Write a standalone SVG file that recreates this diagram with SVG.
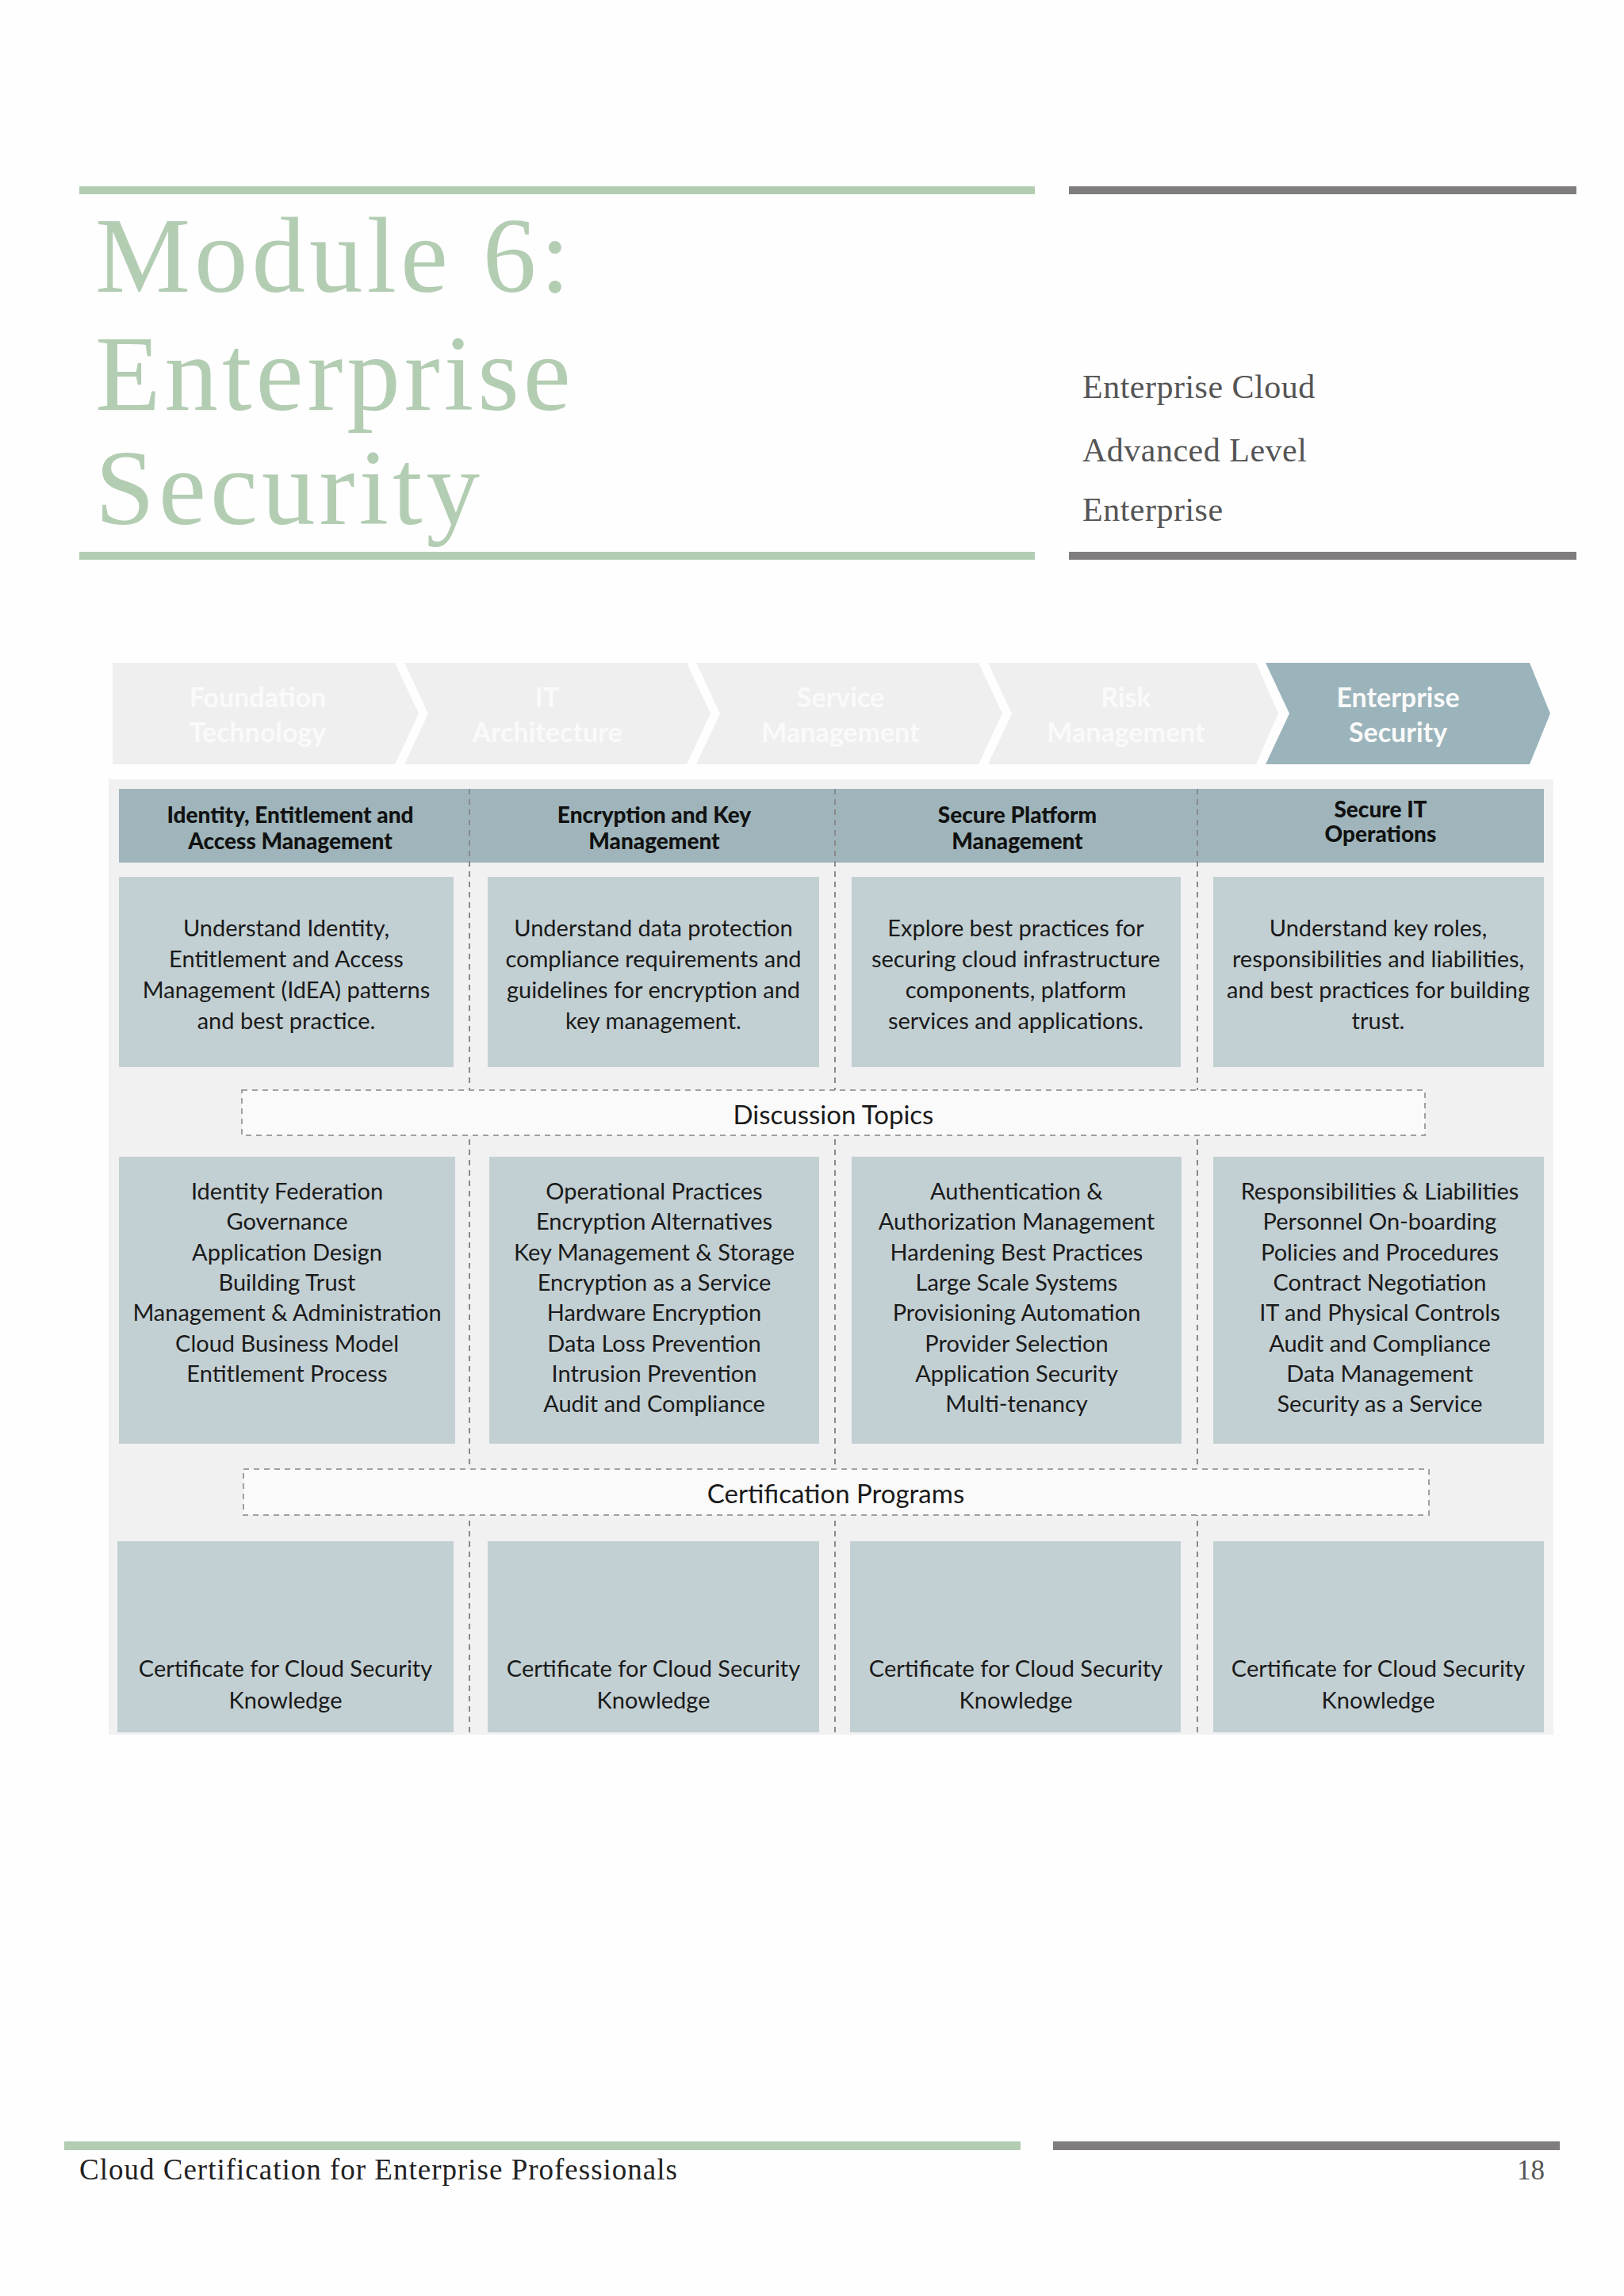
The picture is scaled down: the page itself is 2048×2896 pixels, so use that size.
<svg xmlns="http://www.w3.org/2000/svg" width="2048" height="2896" viewBox="0 0 2048 2896">
<style>
.t{font-family:"Liberation Serif",serif}
.g{font-family:Lato,"Open Sans",sans-serif;fill:#1a1a1a}
.hd{font-weight:900;font-size:28px;text-anchor:middle;fill:#111}
.bd{font-size:29px;text-anchor:middle}
.box{fill:#c3d0d3}
.dash{stroke:#8a8a8a;stroke-width:2;stroke-dasharray:7 6;fill:none}
.dbox{stroke:#a0a0a0;stroke-width:2;stroke-dasharray:7 6;fill:#fafafa}
.chv{fill:#efefef}
.ct{font-family:Lato,"Open Sans",sans-serif;font-weight:bold;font-size:34px;fill:#fafafa;text-anchor:middle}
</style>
<rect width="2048" height="2896" fill="#fefefe"/>
<g id="header">
<rect x="100" y="235" width="1205" height="10" fill="#b3cdb3"/>
<rect x="1348" y="235" width="640" height="10" fill="#7f7d7e"/>
<rect x="100" y="696" width="1205" height="10" fill="#b3cdb3"/>
<rect x="1348" y="696" width="640" height="10" fill="#7f7d7e"/>
<g class="t" font-size="135" fill="#b3cdb3" letter-spacing="5">
<text x="120" y="368">Module 6:</text>
<text x="120" y="517">Enterprise</text>
<text x="120" y="661">Security</text>
</g>
<g class="t" font-size="42" fill="#555" letter-spacing="0.5">
<text x="1365" y="502">Enterprise Cloud</text>
<text x="1365" y="582">Advanced Level</text>
<text x="1365" y="657">Enterprise</text>
</g>
</g>
<g id="chevrons">
<path class="chv" d="M142,836 H498 L528,900 L498,964 H142 Z"/>
<path class="chv" d="M510,836 H866 L896,900 L866,964 H510 L540,900 Z"/>
<path class="chv" d="M878,836 H1234 L1264,900 L1234,964 H878 L908,900 Z"/>
<path class="chv" d="M1246,836 H1584 L1612,900 L1584,964 H1246 L1276,900 Z"/>
<path fill="#9bb4bb" d="M1596,836 H1929 L1955,900 L1929,964 H1596 L1626,900 Z"/>
<text class="ct" x="325" y="892">Foundation<tspan x="325" y="936">Technology</tspan></text>
<text class="ct" x="690" y="892">IT<tspan x="690" y="936">Architecture</tspan></text>
<text class="ct" x="1060" y="892">Service<tspan x="1060" y="936">Management</tspan></text>
<text class="ct" x="1420" y="892">Risk<tspan x="1420" y="936">Management</tspan></text>
<text class="ct" x="1763" y="892" fill="#fff">Enterprise<tspan x="1763" y="936">Security</tspan></text>
</g>
<rect x="137" y="983" width="1822" height="1205" fill="#f1f1f2"/>
<g id="connectors">
<line class="dash" x1="592" y1="995" x2="592" y2="2185"/>
<line class="dash" x1="1053" y1="995" x2="1053" y2="2185"/>
<line class="dash" x1="1510" y1="995" x2="1510" y2="2185"/>
</g>
<g id="headers">
<rect x="150" y="995" width="1797" height="93" fill="#9fb5bb"/>
<line class="dash" x1="592" y1="995" x2="592" y2="1088"/>
<line class="dash" x1="1053" y1="995" x2="1053" y2="1088"/>
<line class="dash" x1="1510" y1="995" x2="1510" y2="1088"/>
<text class="g hd" x="366" y="1038">Identity, Entitlement and<tspan x="366" y="1071">Access Management</tspan></text>
<text class="g hd" x="825" y="1038">Encryption and Key<tspan x="825" y="1071">Management</tspan></text>
<text class="g hd" x="1283" y="1038">Secure Platform<tspan x="1283" y="1071">Management</tspan></text>
<text class="g hd" x="1741" y="1031">Secure IT<tspan x="1741" y="1062">Operations</tspan></text>
</g>
<g id="descriptions">
<rect class="box" x="150" y="1106" width="422" height="240"/>
<rect class="box" x="615" y="1106" width="418" height="240"/>
<rect class="box" x="1074" y="1106" width="415" height="240"/>
<rect class="box" x="1530" y="1106" width="417" height="240"/>
<text class="g bd" x="361" y="1181">Understand Identity,<tspan x="361" y="1220">Entitlement and Access</tspan><tspan x="361" y="1259">Management (IdEA) patterns</tspan><tspan x="361" y="1298">and best practice.</tspan></text>
<text class="g bd" x="824" y="1181">Understand data protection<tspan x="824" y="1220">compliance requirements and</tspan><tspan x="824" y="1259">guidelines for encryption and</tspan><tspan x="824" y="1298">key management.</tspan></text>
<text class="g bd" x="1281" y="1181">Explore best practices for<tspan x="1281" y="1220">securing cloud infrastructure</tspan><tspan x="1281" y="1259">components, platform</tspan><tspan x="1281" y="1298">services and applications.</tspan></text>
<text class="g bd" x="1738" y="1181">Understand key roles,<tspan x="1738" y="1220">responsibilities and liabilities,</tspan><tspan x="1738" y="1259">and best practices for building</tspan><tspan x="1738" y="1298">trust.</tspan></text>
</g>
<g id="discussion">
<rect x="305" y="1375" width="1492" height="57" class="dbox"/>
<text class="g" x="1051" y="1418" font-size="33" text-anchor="middle">Discussion Topics</text>
</g>
<g id="topics">
<rect class="box" x="150" y="1459" width="424" height="362"/>
<rect class="box" x="617" y="1459" width="416" height="362"/>
<rect class="box" x="1074" y="1459" width="416" height="362"/>
<rect class="box" x="1530" y="1459" width="417" height="362"/>
<text class="g bd" x="362" y="1513">Identity Federation<tspan x="362" y="1551">Governance</tspan><tspan x="362" y="1590">Application Design</tspan><tspan x="362" y="1628">Building Trust</tspan><tspan x="362" y="1666">Management &amp; Administration</tspan><tspan x="362" y="1705">Cloud Business Model</tspan><tspan x="362" y="1743">Entitlement Process</tspan></text>
<text class="g bd" x="825" y="1513">Operational Practices<tspan x="825" y="1551">Encryption Alternatives</tspan><tspan x="825" y="1590">Key Management &amp; Storage</tspan><tspan x="825" y="1628">Encryption as a Service</tspan><tspan x="825" y="1666">Hardware Encryption</tspan><tspan x="825" y="1705">Data Loss Prevention</tspan><tspan x="825" y="1743">Intrusion Prevention</tspan><tspan x="825" y="1781">Audit and Compliance</tspan></text>
<text class="g bd" x="1282" y="1513">Authentication &amp;<tspan x="1282" y="1551">Authorization Management</tspan><tspan x="1282" y="1590">Hardening Best Practices</tspan><tspan x="1282" y="1628">Large Scale Systems</tspan><tspan x="1282" y="1666">Provisioning Automation</tspan><tspan x="1282" y="1705">Provider Selection</tspan><tspan x="1282" y="1743">Application Security</tspan><tspan x="1282" y="1781">Multi-tenancy</tspan></text>
<text class="g bd" x="1740" y="1513">Responsibilities &amp; Liabilities<tspan x="1740" y="1551">Personnel On-boarding</tspan><tspan x="1740" y="1590">Policies and Procedures</tspan><tspan x="1740" y="1628">Contract Negotiation</tspan><tspan x="1740" y="1666">IT and Physical Controls</tspan><tspan x="1740" y="1705">Audit and Compliance</tspan><tspan x="1740" y="1743">Data Management</tspan><tspan x="1740" y="1781">Security as a Service</tspan></text>
</g>
<g id="certification">
<rect x="307" y="1853" width="1495" height="58" class="dbox"/>
<text class="g" x="1054" y="1896" font-size="33" text-anchor="middle">Certification Programs</text>
</g>
<g id="certs">
<rect class="box" x="148" y="1944" width="424" height="241"/>
<rect class="box" x="615" y="1944" width="418" height="241"/>
<rect class="box" x="1072" y="1944" width="417" height="241"/>
<rect class="box" x="1530" y="1944" width="417" height="241"/>
<text class="g bd" x="360" y="2115">Certificate for Cloud Security<tspan x="360" y="2155">Knowledge</tspan></text>
<text class="g bd" x="824" y="2115">Certificate for Cloud Security<tspan x="824" y="2155">Knowledge</tspan></text>
<text class="g bd" x="1281" y="2115">Certificate for Cloud Security<tspan x="1281" y="2155">Knowledge</tspan></text>
<text class="g bd" x="1738" y="2115">Certificate for Cloud Security<tspan x="1738" y="2155">Knowledge</tspan></text>
</g>
<g id="footer">
<rect x="81" y="2701" width="1206" height="11" fill="#b3cdb3"/>
<rect x="1328" y="2701" width="639" height="11" fill="#7f7d7e"/>
<text class="t" x="100" y="2749" font-size="37" fill="#222" letter-spacing="1">Cloud Certification for Enterprise Professionals</text>
<text class="t" x="1948" y="2749" font-size="35" fill="#555" text-anchor="end">18</text>
</g>
</svg>
